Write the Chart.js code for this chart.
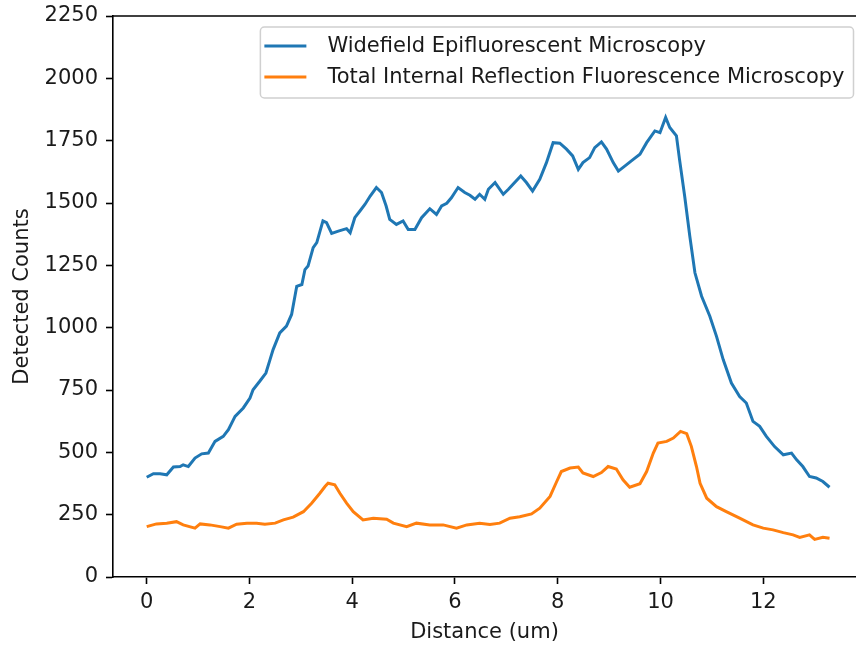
<!DOCTYPE html>
<html>
<head>
<meta charset="utf-8">
<script src="https://cdn.jsdelivr.net/npm/chart.js@4"></script>
<style>
    html, body { margin: 0; padding: 0; background: #fff; overflow: hidden; }
    #wrap { width: 856px; height: 645px; }
</style>
</head>
<body>
<div id="wrap"><canvas id="profileGraph" width="856" height="645"></canvas></div>
<script>
// values
const wideX = [0, 0.13, 0.26, 0.39, 0.52, 0.65, 0.71, 0.81, 0.94, 1.07, 1.2, 1.33, 1.49, 1.59, 1.72, 1.88, 2.01, 2.07, 2.2, 2.32,
    2.4, 2.46, 2.59, 2.72, 2.82, 2.92, 3.02, 3.08, 3.14, 3.24, 3.31, 3.43, 3.5, 3.6, 3.73, 3.89, 3.96, 4.05, 4.15, 4.25,
    4.35, 4.47, 4.57, 4.66, 4.73, 4.86, 4.99, 5.09, 5.22, 5.35, 5.51, 5.64, 5.74, 5.84, 5.93, 6.06, 6.19, 6.29, 6.39, 6.48,
    6.58, 6.65, 6.78, 6.94, 7.04, 7.13, 7.28, 7.39, 7.51, 7.65, 7.78, 7.91, 8.04, 8.17, 8.29, 8.4, 8.49, 8.62, 8.72, 8.85,
    8.95, 9.08, 9.18, 9.31, 9.47, 9.6, 9.73, 9.89, 9.99, 10.1, 10.18, 10.31, 10.37, 10.47, 10.57, 10.67, 10.8, 10.96, 11.09, 11.22,
    11.38, 11.54, 11.67, 11.8, 11.93, 12.06, 12.22, 12.39, 12.55, 12.65, 12.77, 12.9, 13.03, 13.16, 13.29];
const wideY = [400, 414, 414, 410, 441, 443, 450, 443, 477, 494, 497, 544, 564, 591, 644, 678, 718, 751, 785, 818,
    872, 912, 979, 1006, 1053, 1166, 1173, 1233, 1247, 1321, 1341, 1428, 1421, 1378, 1387, 1397, 1381, 1441, 1468, 1495,
    1528, 1562, 1542, 1488, 1434, 1414, 1428, 1394, 1394, 1441, 1477, 1454, 1488, 1499, 1521, 1562, 1542, 1531, 1515, 1535,
    1515, 1555, 1582, 1535, 1555, 1575, 1608, 1582, 1548, 1595, 1662, 1742, 1740, 1716, 1689, 1635, 1662, 1682, 1722, 1745,
    1716, 1662, 1628, 1649, 1675, 1696, 1742, 1789, 1782, 1843, 1803, 1769, 1675, 1528, 1367, 1220, 1126, 1046, 965, 872,
    778, 724, 698, 624, 604, 564, 523, 490, 497, 470, 443, 403, 397, 383, 360];

const tirfX = [0, 0.19, 0.39, 0.58, 0.71, 0.94, 1.04, 1.23, 1.43, 1.59, 1.75, 1.95, 2.14, 2.3, 2.5, 2.66, 2.85, 3.05, 3.21, 3.37,
    3.47, 3.53, 3.66, 3.76, 3.89, 4.02, 4.21, 4.41, 4.67, 4.8, 5.06, 5.25, 5.51, 5.77, 6.03, 6.23, 6.48, 6.68, 6.87, 7.07,
    7.26, 7.49, 7.65, 7.85, 7.98, 8.07, 8.24, 8.4, 8.49, 8.69, 8.85, 8.98, 9.14, 9.27, 9.4, 9.6, 9.73, 9.86, 9.95, 10.12,
    10.25, 10.39, 10.51, 10.6, 10.7, 10.77, 10.9, 11.09, 11.28, 11.54, 11.8, 12, 12.19, 12.39, 12.58, 12.71, 12.9, 13, 13.16, 13.29];
const tirfY = [202, 213, 216, 222, 209, 196, 213, 209, 202, 196, 212, 216, 216, 212, 216, 229, 240, 262, 296, 336,
    363, 376, 370, 336, 296, 262, 229, 236, 232, 216, 202, 216, 209, 209, 196, 209, 216, 211, 216, 236,
    242, 253, 276, 323, 383, 423, 437, 441, 417, 403, 419, 443, 433, 390, 360, 374, 423, 497, 537, 544,
    557, 584, 575, 524, 443, 376, 316, 282, 262, 236, 209, 196, 189, 178, 169, 159, 169, 151, 159, 155];

const seriesLabels = ["Widefield Epifluorescent Microscopy", "Total Internal Reflection Fluorescence Microscopy"];
const xTicks = [0, 2, 4, 6, 8, 10, 12];
const yTicks = [0, 250, 500, 750, 1000, 1250, 1500, 1750, 2000, 2250];

const FONT = "'DejaVu Sans', sans-serif";
const FONT_SIZE = 21;
const INK = "#1a1a1a";

// the original axes run from x = -0.656 at the left spine to ~13.96 at a right spine cut off by the crop
const X_MIN = -0.656;
const X_PX_PER_UM = 51.38;
const AXES_RIGHT = 864;

// function to zip two arrays into chart points
function to_points(xs, ys) {
    return xs.map((x, i) => ({ x: x, y: ys[i] }));
}

// keeps the x scale at the original's um-per-pixel, even though its right spine is off the picture
const cropPlugin = {
    id: "crop",
    afterLayout(chart) {
        const sx = chart.scales.x;
        sx.min = X_MIN;
        sx.max = X_MIN + (sx.right - sx.left) / X_PX_PER_UM;
        sx.configure();
    },
};

// draws the top spine like matplotlib (the right one is outside the crop)
const framePlugin = {
    id: "frame",
    afterDatasetsDraw(chart) {
        const { ctx, chartArea } = chart;
        ctx.save();
        ctx.strokeStyle = "#000";
        ctx.lineWidth = 1.6;
        ctx.beginPath();
        ctx.moveTo(chartArea.left, chartArea.top);
        ctx.lineTo(chart.width, chartArea.top);
        ctx.moveTo(chartArea.right, chartArea.bottom);
        ctx.lineTo(chart.width, chartArea.bottom);
        ctx.stroke();
        ctx.restore();
    },
};

// legend box inside the axes, upper right
const innerLegendPlugin = {
    id: "innerLegend",
    afterDraw(chart) {
        const { ctx, chartArea } = chart;
        ctx.save();
        ctx.font = FONT_SIZE + "px " + FONT;
        const widths = chart.data.datasets.map(d => ctx.measureText(d.label).width);
        const boxW = 76 + Math.max(...widths);
        const boxH = 71;
        const right = AXES_RIGHT - 10.5;
        const left = right - boxW;
        const top = chartArea.top + 11;
        ctx.fillStyle = "rgba(255,255,255,0.8)";
        ctx.strokeStyle = "#d0d0d0";
        ctx.lineWidth = 1.5;
        ctx.beginPath();
        ctx.roundRect(left, top, boxW, boxH, 4);
        ctx.fill();
        ctx.stroke();
        chart.data.datasets.forEach((d, i) => {
            const y = top + 19 + i * 31;
            ctx.strokeStyle = d.borderColor;
            ctx.lineWidth = 3;
            ctx.beginPath();
            ctx.moveTo(left + 4, y);
            ctx.lineTo(left + 46, y);
            ctx.stroke();
            ctx.fillStyle = INK;
            ctx.textBaseline = "middle";
            ctx.fillText(d.label, left + 67, y + 1);
        });
        ctx.restore();
    },
};

// function to create the intensity profile graph
function create_profile_graph() {
    const tickFont = { family: FONT, size: FONT_SIZE };
    const config = {
        type: "line",
        data: {
            datasets: [
                {
                    label: seriesLabels[0],
                    data: to_points(wideX, wideY),
                    borderColor: "#1f77b4",
                    borderWidth: 3,
                    pointRadius: 0,
                    tension: 0,
                },
                {
                    label: seriesLabels[1],
                    data: to_points(tirfX, tirfY),
                    borderColor: "#ff7f0e",
                    borderWidth: 3,
                    pointRadius: 0,
                    tension: 0,
                },
            ],
        },
        options: {
            responsive: false,
            animation: false,
            layout: { padding: { left: 0, top: 16, right: 0, bottom: 0 } },
            plugins: {
                legend: { display: false },
                tooltip: { enabled: false },
            },
            scales: {
                x: {
                    type: "linear",
                    min: X_MIN,
                    max: 13.8,
                    afterBuildTicks: (scale) => { scale.ticks = xTicks.map(v => ({ value: v })); },
                    afterFit: (scale) => {
                        scale.height = 68;
                        scale.paddingLeft = 0;
                        scale.paddingRight = 0;
                    },
                    grid: { drawOnChartArea: false, drawTicks: true, tickLength: 7, tickColor: "#000", tickWidth: 1.6 },
                    border: { display: true, color: "#000", width: 1.6 },
                    ticks: { color: INK, padding: 6, maxRotation: 0, font: tickFont, callback: (v) => String(v) },
                    title: {
                        display: true,
                        text: "Distance (um)",
                        color: INK,
                        font: tickFont,
                        padding: { top: 0, bottom: 0 },
                    },
                },
                y: {
                    min: 0,
                    max: 2250,
                    afterBuildTicks: (scale) => { scale.ticks = yTicks.map(v => ({ value: v })); },
                    afterFit: (scale) => {
                        scale.width = 113;
                        scale.paddingTop = 0;
                        scale.paddingBottom = 0;
                    },
                    grid: { drawOnChartArea: false, drawTicks: true, tickLength: 7, tickColor: "#000", tickWidth: 1.6 },
                    border: { display: true, color: "#000", width: 1.6 },
                    ticks: { color: INK, padding: 8, font: tickFont, callback: (v) => String(v) },
                    title: {
                        display: true,
                        text: "Detected Counts",
                        color: INK,
                        font: tickFont,
                        padding: { top: 10, bottom: 0 },
                    },
                },
            },
        },
        plugins: [cropPlugin, framePlugin, innerLegendPlugin],
    };
    return new Chart("profileGraph", config);
}

create_profile_graph();
</script>
</body>
</html>
